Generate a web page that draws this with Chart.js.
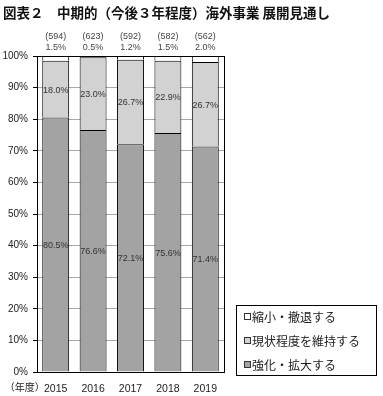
<!DOCTYPE html>
<html><head><meta charset="utf-8">
<script src="https://cdn.jsdelivr.net/npm/chart.js@4"></script>
<style>html,body{margin:0;padding:0;background:#fff;}canvas{display:block;}</style>
</head><body>
<canvas id="c" width="383" height="396"></canvas>
<script>
const titleText = '図表２　中期的（今後３年程度）海外事業 展開見通し';
const years = ['2015', '2016', '2017', '2018', '2019'];
const counts = [594, 623, 592, 582, 562];
const expand = [80.5, 76.6, 72.1, 75.6, 71.4];
const maintain = [18.0, 23.0, 26.7, 22.9, 26.7];
const shrink = [1.5, 0.5, 1.2, 1.5, 2.0];
const seriesNames = ['強化・拡大する', '現状程度を維持する', '縮小・撤退する'];
const yearUnit = '（年度）';

const CJK = '"Noto Sans CJK JP", "Liberation Sans", sans-serif';
const NUM = '"Liberation Sans", Arial, sans-serif';

const decor = {
  id: 'decor',
  afterDatasetsDraw(chart) {
    const ctx = chart.ctx;
    const a = chart.chartArea;
    ctx.save();
    // frame
    ctx.strokeStyle = '#000';
    ctx.lineWidth = 1;
    ctx.strokeRect(Math.round(a.left) + 0.5, Math.round(a.top) + 0.5, Math.round(a.right - a.left), Math.round(a.bottom - a.top));
    // in-bar labels
    ctx.fillStyle = '#333';
    ctx.font = '9px ' + NUM;
    ctx.textAlign = 'center';
    ctx.textBaseline = 'middle';
    [0, 1].forEach(di => {
      const meta = chart.getDatasetMeta(di);
      meta.data.forEach((el, i) => {
        const v = chart.data.datasets[di].data[i];
        ctx.fillText(v.toFixed(1) + '%', el.x, (el.y + el.base) / 2 + 1);
      });
    });
    // above-chart labels
    const meta2 = chart.getDatasetMeta(2);
    ctx.fillStyle = '#444';
    meta2.data.forEach((el, i) => {
      ctx.fillText('(' + counts[i] + ')', el.x, 37);
      ctx.fillText(shrink[i].toFixed(1) + '%', el.x, 48);
    });
    // year unit
    const xs = chart.scales.x;
    ctx.fillStyle = '#222';
    ctx.font = '10px ' + CJK;
    ctx.textAlign = 'right';
    ctx.fillText(yearUnit, xs.getPixelForValue(0) - 11, 387);
    // title
    ctx.fillStyle = '#111';
    ctx.font = 'bold 13.5px ' + CJK;
    ctx.textAlign = 'left';
    ctx.fillText(titleText, 3, 13);
    // legend
    ctx.strokeStyle = '#000';
    ctx.strokeRect(236.5, 305.5, 140, 70);
    const ys = [317, 341, 365];
    ctx.font = '12px ' + CJK;
    [2, 1, 0].forEach((di, k) => {
      const ds = chart.data.datasets[di];
      ctx.fillStyle = ds.backgroundColor;
      ctx.fillRect(244, ys[k] - 3, 6, 6);
      ctx.strokeStyle = '#333';
      ctx.strokeRect(244.5, ys[k] - 3.5, 6, 6);
      ctx.fillStyle = '#222';
      ctx.fillText(ds.label, 252, ys[k]);
    });
    ctx.restore();
  }
};

const bw = {top: 1, left: 1, right: 1, bottom: 0};
new Chart(document.getElementById('c'), {
  type: 'bar',
  data: {
    labels: years,
    datasets: [
      {label: seriesNames[0], data: expand, backgroundColor: '#a3a3a3', borderColor: '#000', borderWidth: bw, borderSkipped: false},
      {label: seriesNames[1], data: maintain, backgroundColor: '#d2d2d2', borderColor: '#000', borderWidth: bw, borderSkipped: false},
      {label: seriesNames[2], data: shrink, backgroundColor: '#ffffff', borderColor: '#000', borderWidth: bw, borderSkipped: false}
    ]
  },
  options: {
    responsive: false,
    animation: false,
    devicePixelRatio: 1,
    categoryPercentage: 0.72,
    barPercentage: 1,
    layout: {padding: {top: 56, right: 159, bottom: 0, left: 0}},
    plugins: {legend: {display: false}, title: {display: false}, tooltip: {enabled: false}},
    scales: {
      x: {
        stacked: true,
        grid: {display: false},
        border: {display: true, color: '#000'},
        ticks: {color: '#222', font: {family: NUM, size: 10.5}, padding: 3},
        afterFit(s) { s.height = 24; }
      },
      y: {
        stacked: true,
        min: 0, max: 100,
        ticks: {stepSize: 10, color: '#222', font: {family: NUM, size: 10}, padding: 5, callback: v => v + '%'},
        grid: {color: '#a8a8a8', tickColor: '#000', tickLength: 4},
        border: {display: true, color: '#000'},
        afterFit(s) { s.width = 37; }
      }
    }
  },
  plugins: [decor]
});
</script>
</body></html>
